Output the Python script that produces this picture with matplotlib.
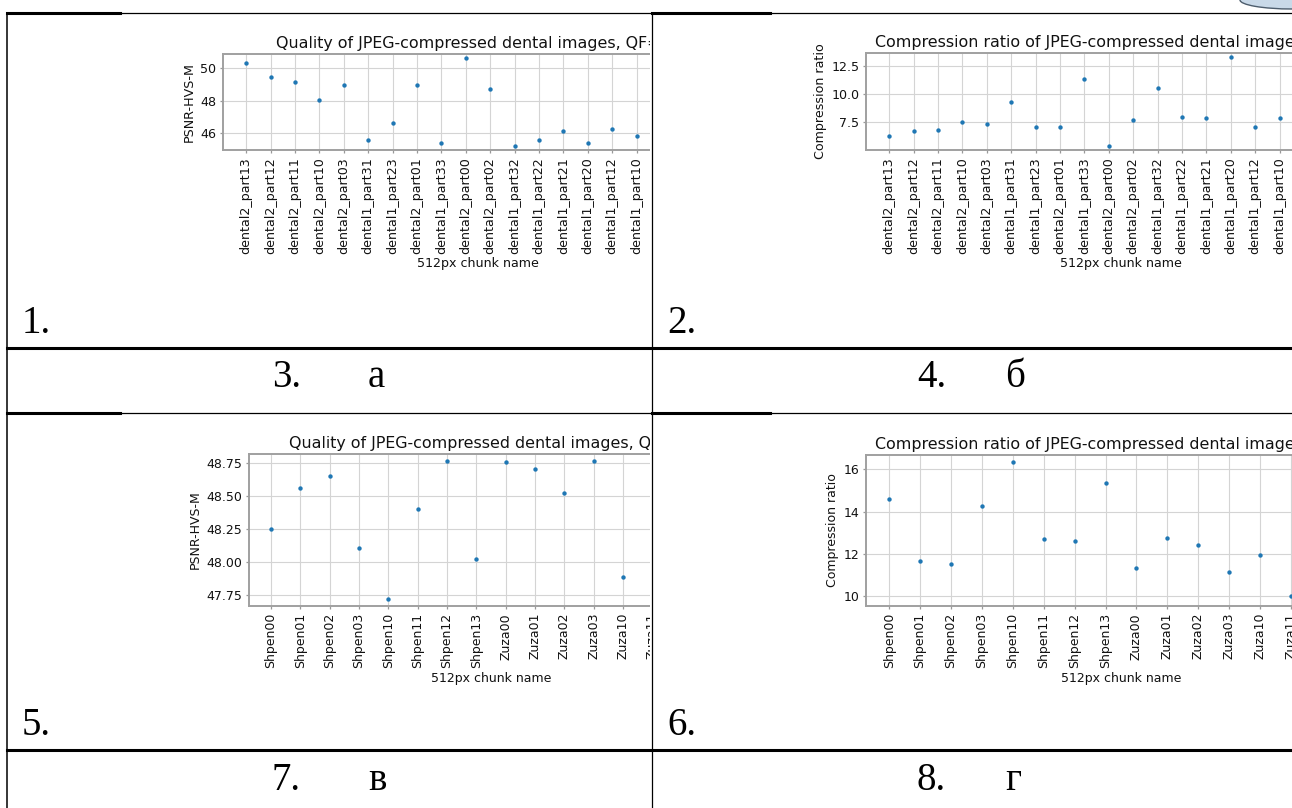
import matplotlib
matplotlib.use("Agg")
import matplotlib.pyplot as plt
from matplotlib.patches import Rectangle, Ellipse

# chunk names / values for the charts a, б -- the last 3 are cropped off in the source
names_ab = ["dental2_part13", "dental2_part12", "dental2_part11", "dental2_part10",
            "dental2_part03", "dental1_part31", "dental1_part23", "dental2_part01",
            "dental1_part33", "dental2_part00", "dental2_part02", "dental1_part32",
            "dental1_part22", "dental1_part21", "dental1_part20", "dental1_part12",
            "dental1_part10", "dental1_part11", "dental1_part13", "dental1_part02"]
psnr_a = [50.33, 49.48, 49.15, 48.08, 48.97, 45.60, 46.63, 49.00, 45.40, 50.62,
          48.73, 45.25, 45.60, 46.12, 45.40, 46.30, 45.85, 45.90, 46.00, 45.70]
ratio_b = [6.26, 6.76, 6.85, 7.53, 7.35, 9.28, 7.12, 7.05, 11.35, 5.44,
           7.71, 10.52, 7.97, 7.89, 13.24, 7.06, 7.92, 7.40, 8.10, 6.90]

names_cd = ["Shpen00", "Shpen01", "Shpen02", "Shpen03", "Shpen10", "Shpen11",
            "Shpen12", "Shpen13", "Zuza00", "Zuza01", "Zuza02", "Zuza03",
            "Zuza10", "Zuza11", "Zuza12", "Zuza13"]
psnr_c = [48.25, 48.557, 48.652, 48.11, 47.72, 48.40, 48.765, 48.02, 48.76, 48.707,
          48.52, 48.765, 47.886, 48.30, 48.60, 48.10]
ratio_d = [14.60, 11.65, 11.50, 14.27, 16.36, 12.72, 12.63, 15.35, 11.31, 12.77,
           12.44, 11.12, 11.93, 10.00, 9.85, 10.60]

yticks_a = [46, 48, 50]
yticks_b = [7.5, 10.0, 12.5]
yticks_c = [47.75, 48.00, 48.25, 48.50, 48.75]
yticks_d = [10, 12, 14, 16]

title_q = "Quality of JPEG-compressed dental images, QF=50"
title_r = "Compression ratio of JPEG-compressed dental images, QF=50"

W, H = 1292, 808
fig = plt.figure(figsize=(W / 100, H / 100), dpi=100)
fig.patch.set_facecolor("white")


def px_axes(x0, x1, y0, y1, z):
    # box given in image pixels (y from top)
    return fig.add_axes([x0 / W, 1 - y1 / H, (x1 - x0) / W, (y1 - y0) / H], zorder=z)


def chart(ax, names, vals, yticks, title, ylabel, fs, tfs):
    ax.scatter(range(len(names)), vals, s=10, color="#1f77b4", linewidths=0, zorder=3)
    ax.set_xticks(range(len(names)))
    ax.set_xticklabels(names, rotation=90)
    ax.set_yticks(yticks)
    ax.tick_params(colors="#999999", length=2.5, width=0.9, pad=2.5)
    ax.tick_params(labelsize=fs, labelcolor="#111111")
    ax.grid(True, color="#d4d4d4", linewidth=0.8)
    ax.set_axisbelow(True)
    for s in ax.spines.values():
        s.set_color("#a0a0a0")
        s.set_linewidth(1.4)
    ax.set_title(title, fontsize=tfs, pad=4, color="#111111")
    ax.set_xlabel("512px chunk name", fontsize=fs, labelpad=2.5, color="#111111")
    ax.set_ylabel(ylabel, fontsize=fs, labelpad=3, color="#111111")


# left column charts
ax1 = px_axes(223, 733, 54, 150, 0)
chart(ax1, names_ab, psnr_a, yticks_a, title_q, "PSNR-HVS-M", 9.1, 11.4)
ax3 = px_axes(249, 733, 454, 606, 0)
chart(ax3, names_cd, psnr_c, yticks_c, title_q, "PSNR-HVS-M", 9.0, 11.4)

# white cover so left screenshots look cropped at the cell border
fig.add_artist(Rectangle((650 / W, 0), 1 - 650 / W, 1 - 14 / H,
                         transform=fig.transFigure, facecolor="white",
                         edgecolor="none", zorder=1))

# right column charts
ax2 = px_axes(866, 1376, 53, 150, 2)
chart(ax2, names_ab, ratio_b, yticks_b, title_r, "Compression ratio", 9.1, 11.4)
ax4 = px_axes(866, 1376, 455, 606, 2)
chart(ax4, names_cd, ratio_d, yticks_d, title_r, "Compression ratio", 9.0, 11.4)

# table overlay, pixel coords
ov = fig.add_axes([0, 0, 1, 1], zorder=3)
ov.set_xlim(0, W)
ov.set_ylim(H, 0)
ov.axis("off")
ov.patch.set_alpha(0)

k = "black"
thin, thick = 0.9, 2.2
ov.plot([7, W], [13, 13], color=k, lw=thin)
ov.plot([7, 120], [13, 13], color=k, lw=thick)
ov.plot([652, 770], [13, 13], color=k, lw=thick)
ov.plot([7, 7], [13, H], color=k, lw=1.1)
ov.plot([652, 652], [13, H], color=k, lw=thin)
ov.plot([7, W], [348, 348], color=k, lw=thick)
ov.plot([7, W], [413, 413], color=k, lw=thin)
ov.plot([7, 120], [413, 413], color=k, lw=thick)
ov.plot([652, 770], [413, 413], color=k, lw=thick)
ov.plot([7, W], [750, 750], color=k, lw=thick)

# bit of a logo peeking in at top right
ov.add_patch(Ellipse((1292, 0), 104, 18, facecolor="#c9d9e8", edgecolor="#4d5d6d", lw=1.0))

serif = "Liberation Serif"
fs_num = 28
labels = [("1.", 22, 333), ("2.", 667, 333), ("3.", 272, 387), ("а", 368, 387),
          ("4.", 917, 387), ("б", 1005, 387), ("5.", 22, 735), ("6.", 667, 735),
          ("7.", 272, 790), ("в", 368, 790), ("8.", 917, 790), ("г", 1005, 790)]
for t, x, y in labels:
    ov.text(x, y, t, fontsize=fs_num, family=serif, ha="left", va="baseline", color="black")

fig.savefig("out.png", dpi=100, facecolor="white")
